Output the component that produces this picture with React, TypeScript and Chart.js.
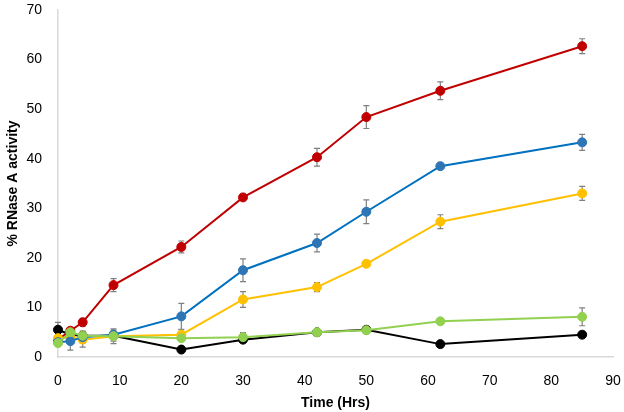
import React, { useEffect, useRef } from "react";
import { Chart, registerables } from "chart.js";

Chart.register(...registerables);

const times = [0, 2, 4, 9, 20, 30, 42, 50, 62, 85];
const xTicks = [0, 10, 20, 30, 40, 50, 60, 70, 80, 90];
const yTicks = [0, 10, 20, 30, 40, 50, 60, 70];

const redValues = [3.5, 5.3, 7.0, 14.5, 22.2, 32.2, 40.3, 48.4, 53.7, 62.7];
const redErrors = [0.3, 0.5, 0.8, 1.3, 1.2, 0.6, 1.8, 2.3, 1.8, 1.5];
const blueValues = [3.0, 3.2, 4.0, 4.5, 8.2, 17.5, 23.0, 29.3, 38.5, 43.3];
const blueErrors = [0.5, 1.8, 1.2, 1.0, 2.6, 2.3, 1.8, 2.4, 0.6, 1.6];
const yellowValues = [3.8, 4.0, 3.5, 4.2, 4.5, 11.6, 14.1, 18.8, 27.3, 33.0];
const yellowErrors = [0.5, 0.5, 1.5, 1.5, 1.0, 1.6, 0.9, 0.5, 1.4, 1.4];
const greenValues = [2.8, 5.0, 4.3, 4.2, 3.8, 4.0, 5.0, 5.4, 7.2, 8.1];
const greenErrors = [0.3, 0.5, 0.5, 1.0, 0.3, 0.9, 0.3, 0.3, 0.3, 1.8];
const blackValues = [5.5, 4.5, 4.3, 4.3, 1.5, 3.5, 5.0, 5.5, 2.6, 4.5];
const blackErrors = [1.5, 0.3, 0.3, 0.3, 0.3, 0.3, 0.3, 0.3, 0.3, 0.3];

const FONT = "'Liberation Sans', Arial, sans-serif";

function makeSet(label: string, values: number[], errors: number[], color: string, pointColor: string) {
  return {
    label,
    data: times.map((t, i) => ({ x: t, y: values[i] })),
    errors,
    borderColor: color,
    backgroundColor: pointColor,
    pointBackgroundColor: pointColor,
    pointBorderColor: pointColor,
    pointRadius: 4.5,
    pointHoverRadius: 4.5,
    pointBorderWidth: 1,
    borderWidth: 2,
    tension: 0,
    clip: false,
  } as any;
}

const errorBarPlugin = {
  id: "errorBars",
  beforeDatasetsDraw(chart: any) {
    const ctx = chart.ctx;
    const yScale = chart.scales.y;
    ctx.save();
    ctx.strokeStyle = "#808080";
    ctx.lineWidth = 1.2;
    chart.data.datasets.forEach((ds: any, di: number) => {
      const meta = chart.getDatasetMeta(di);
      meta.data.forEach((pt: any, i: number) => {
        const v = ds.data[i].y;
        const e = ds.errors[i];
        const top = yScale.getPixelForValue(v + e);
        const bot = yScale.getPixelForValue(v - e);
        const x = pt.x;
        ctx.beginPath();
        ctx.moveTo(x, top);
        ctx.lineTo(x, bot);
        ctx.moveTo(x - 3, top);
        ctx.lineTo(x + 3, top);
        ctx.moveTo(x - 3, bot);
        ctx.lineTo(x + 3, bot);
        ctx.stroke();
      });
    });
    ctx.restore();
  },
};

export default function App() {
  const ref = useRef<HTMLCanvasElement>(null);
  useEffect(() => {
    document.body.style.margin = "0";
    const chart = new Chart(ref.current!, {
      type: "line",
      data: {
        datasets: [
          makeSet("Green", greenValues, greenErrors, "#92D050", "#92D050"),
          makeSet("Blue", blueValues, blueErrors, "#0070C0", "#2E75B6"),
          makeSet("Yellow", yellowValues, yellowErrors, "#FFC000", "#FFC000"),
          makeSet("Red", redValues, redErrors, "#C00000", "#C00000"),
          makeSet("Black", blackValues, blackErrors, "#000000", "#000000"),
        ],
      },
      options: {
        animation: false,
        responsive: false,
        maintainAspectRatio: false,
        layout: { padding: { left: 0, right: 11, top: 10, bottom: 0 } },
        plugins: { legend: { display: false }, tooltip: { enabled: false } },
        scales: {
          x: {
            type: "linear",
            min: 0,
            max: 90,
            afterBuildTicks: (s: any) => {
              s.ticks = xTicks.map((v) => ({ value: v }));
            },
            afterFit: (s: any) => {
              s.height = 55;
              s.paddingLeft = 0;
              s.paddingRight = 0;
            },
            grid: { display: false },
            border: { display: true, color: "#D9D9D9", width: 1.5 },
            ticks: { color: "#000", font: { family: FONT, size: 14 }, padding: 8, maxRotation: 0 },
            title: {
              display: true,
              text: "Time (Hrs)",
              color: "#000",
              font: { family: FONT, size: 14, weight: "bold" },
              padding: { top: 2, bottom: 0 },
            },
          },
          y: {
            type: "linear",
            min: 0,
            max: 70,
            afterBuildTicks: (s: any) => {
              s.ticks = yTicks.map((v) => ({ value: v }));
            },
            afterFit: (s: any) => {
              s.width = 58;
              s.paddingTop = 0;
              s.paddingBottom = 0;
            },
            grid: { display: false },
            border: { display: true, color: "#D9D9D9", width: 1.5 },
            ticks: { color: "#000", font: { family: FONT, size: 14 }, padding: 8 },
            title: {
              display: true,
              text: "% RNase A activity",
              color: "#000",
              font: { family: FONT, size: 14, weight: "bold" },
              padding: { top: 5, bottom: 0 },
            },
          },
        },
      } as any,
      plugins: [errorBarPlugin],
    });
    return () => chart.destroy();
  }, []);
  return <canvas ref={ref} width={624} height={412} style={{ display: "block" }} />;
}
